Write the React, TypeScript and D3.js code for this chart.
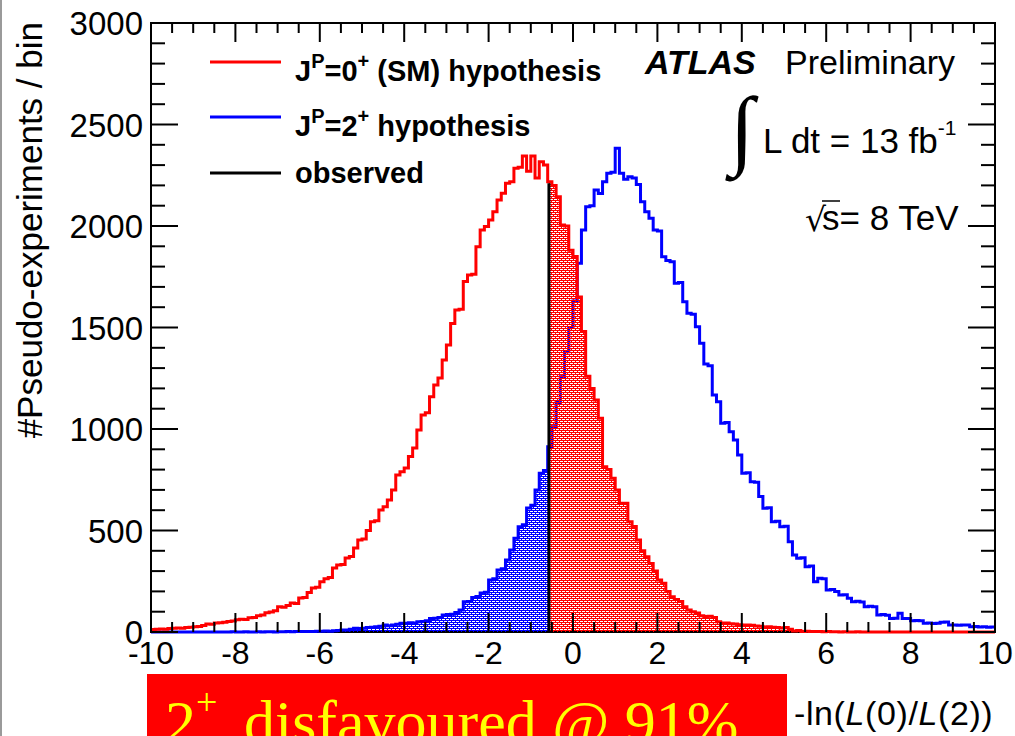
import React from 'react';
import * as d3 from 'd3';

// ---------- data ----------
const X_MIN = -10;
const X_MAX = 10;
const BIN_WIDTH = 0.1;
const Y_MAX = 3000;

const xMajorTicks = [-10, -8, -6, -4, -2, 0, 2, 4, 6, 8, 10];
const xTickLabels = ['-10', '-8', '-6', '-4', '-2', '0', '2', '4', '6', '8', '10'];
const yMajorTicks = [0, 500, 1000, 1500, 2000, 2500, 3000];
const yTickLabels = ['0', '500', '1000', '1500', '2000', '2500', '3000'];

const OBSERVED = -0.57;
const OBSERVED_TOP = 2210;

// J^P = 0+ (SM) hypothesis, 200 bins from -10 to 10
const sm0Counts = [
  12, 14, 15, 14, 17, 18, 20, 19, 22, 24,
  26, 27, 32, 39, 38, 44, 46, 48, 52, 54,
  60, 63, 62, 70, 71, 80, 84, 95, 98, 105,
  125, 122, 130, 143, 140, 167, 170, 195, 217, 220,
  248, 262, 268, 315, 330, 332, 364, 372, 414, 453,
  458, 500, 543, 548, 601, 617, 650, 700, 773, 790,
  808, 864, 906, 995, 1069, 1080, 1159, 1217, 1251, 1340,
  1414, 1520, 1586, 1590, 1726, 1759, 1762, 1898, 1980, 1997,
  2030, 2070, 2128, 2161, 2210, 2218, 2284, 2290, 2345, 2270,
  2345, 2236, 2316, 2300, 2218, 2200, 2144, 2005, 2000, 1880,
  1850, 1650, 1480, 1260, 1200, 1143, 1053, 814, 800, 757,
  700, 634, 634, 543, 520, 453, 400, 371, 338, 300,
  256, 240, 200, 174, 160, 150, 125, 108, 100, 94,
  80, 76, 78, 71, 50, 44, 44, 41, 40, 36,
  34, 34, 33, 30, 28, 25, 26, 24, 22, 20,
  22, 14, 5, 8, 3, 4, 2, 3, 2, 1,
  2, 1, 1, 0, 1, 0, 0, 1, 0, 0,
  0, 0, 0, 0, 0, 0, 0, 0, 0, 0,
  0, 0, 0, 0, 0, 0, 0, 0, 0, 0,
  0, 0, 0, 0, 0, 0, 0, 0, 0, 0,
];

// J^P = 2+ hypothesis, 200 bins from -10 to 10
const spin2Counts = [
  0, 0, 0, 0, 0, 0, 0, 0, 0, 0,
  0, 0, 0, 0, 0, 0, 0, 0, 0, 1,
  0, 0, 1, 0, 0, 1, 0, 1, 1, 0,
  1, 1, 2, 1, 2, 2, 3, 2, 3, 4,
  4, 5, 4, 6, 7, 10, 10, 14, 18, 17,
  18, 22, 24, 26, 28, 34, 31, 35, 38, 43,
  43, 46, 44, 51, 52, 55, 66, 68, 72, 84,
  86, 88, 96, 108, 149, 150, 170, 175, 192, 196,
  256, 262, 305, 312, 355, 404, 462, 519, 528, 611,
  625, 700, 782, 795, 913, 1011, 1130, 1258, 1380, 1500,
  1630, 1816, 1980, 2095, 2100, 2177, 2160, 2218, 2260, 2265,
  2383, 2260, 2230, 2243, 2236, 2205, 2120, 2070, 2038, 1980,
  1975, 1849, 1830, 1824, 1718, 1722, 1627, 1570, 1565, 1504,
  1422, 1320, 1312, 1167, 1134, 1028, 1032, 987, 946, 872,
  782, 785, 740, 738, 667, 609, 612, 543, 546, 519,
  521, 445, 379, 363, 366, 322, 325, 248, 265, 262,
  207, 209, 199, 182, 184, 166, 149, 151, 148, 125,
  127, 124, 84, 86, 83, 67, 68, 92, 67, 66,
  56, 57, 55, 43, 44, 42, 43, 48, 49, 34,
  35, 33, 34, 35, 26, 27, 25, 26, 24, 25,
];

// ---------- layout ----------
const W = 1015;
const H = 736;
const FRAME = { left: 151, right: 995, top: 23, bottom: 632 };
const SANS = '"Liberation Sans", Arial, Helvetica, sans-serif';
const SERIF = '"Liberation Serif", "Times New Roman", serif';
const RED = '#ff0000';
const BLUE = '#0000ff';
const HATCH = 'M0 0h4v1h-4z M3 1h1v1h-1z M0 2h4v1h-4z M1 3h1v1h-1z';

type Pt = [number, number];

function stepPoints(counts: number[]): Pt[] {
  const pts: Pt[] = counts.map((c, i) => [X_MIN + i * BIN_WIDTH, c] as Pt);
  pts.push([X_MAX, counts[counts.length - 1]]);
  return pts;
}

function fillPoints(counts: number[], from: number, to: number): Pt[] {
  const pts: Pt[] = [];
  let last = 0;
  counts.forEach((c, i) => {
    const lo = X_MIN + i * BIN_WIDTH;
    const hi = lo + BIN_WIDTH;
    if (hi <= from + 1e-9 || lo >= to - 1e-9) return;
    pts.push([Math.max(lo, from), c]);
    last = c;
  });
  pts.push([to, last]);
  return pts;
}

export default function App() {
  const x = d3.scaleLinear().domain([X_MIN, X_MAX]).range([FRAME.left, FRAME.right]);
  const y = d3.scaleLinear().domain([0, Y_MAX]).range([FRAME.bottom, FRAME.top]);

  const line = d3
    .line<Pt>()
    .x((d) => x(d[0]))
    .y((d) => y(d[1]))
    .curve(d3.curveStepAfter);
  const area = d3
    .area<Pt>()
    .x((d) => x(d[0]))
    .y0(y(0))
    .y1((d) => y(d[1]))
    .curve(d3.curveStepAfter);

  const xMinor = d3.range(X_MIN, X_MAX + 0.001, 0.5);
  const yMinor = d3.range(0, Y_MAX + 1, 100);

  const tickW = 2;

  return (
    <svg
      width={W}
      height={H}
      viewBox={`0 0 ${W} ${H}`}
      style={{ position: 'absolute', left: 0, top: 0, background: '#fff' }}
    >
      <defs>
        <pattern id="redHatch" patternUnits="userSpaceOnUse" width="4" height="4">
          <path d={HATCH} fill={RED} />
        </pattern>
        <pattern id="blueHatch" patternUnits="userSpaceOnUse" width="4" height="4">
          <path d={HATCH} fill={BLUE} />
        </pattern>
      </defs>
      <rect x={0} y={0} width={W} height={H} fill="#fff" />
      <line x1={1} y1={0} x2={1} y2={H} stroke="#9a9a9a" strokeWidth={2} />

      {/* frame */}
      <rect
        x={FRAME.left}
        y={FRAME.top}
        width={FRAME.right - FRAME.left}
        height={FRAME.bottom - FRAME.top}
        fill="none"
        stroke="#000"
        strokeWidth={2}
      />

      {/* blue filled area left of observed */}
      <path d={area(fillPoints(spin2Counts, X_MIN, OBSERVED)) || ''} fill="url(#blueHatch)" />
      <path d={line(stepPoints(spin2Counts)) || ''} fill="none" stroke={BLUE} strokeWidth={3} />
      {/* red filled area right of observed */}
      <path d={area(fillPoints(sm0Counts, OBSERVED, X_MAX)) || ''} fill="url(#redHatch)" />
      <path d={line(stepPoints(sm0Counts)) || ''} fill="none" stroke={RED} strokeWidth={3} />

      {/* observed */}
      <line
        x1={x(OBSERVED)}
        x2={x(OBSERVED)}
        y1={y(0)}
        y2={y(OBSERVED_TOP)}
        stroke="#000"
        strokeWidth={3}
      />

      {/* ticks */}
      <g stroke="#000" strokeWidth={tickW}>
        {xMinor.map((v) => {
          const major = xMajorTicks.some((m) => Math.abs(m - v) < 1e-6);
          const len = major ? 19 : 10;
          return (
            <g key={`xt${v}`}>
              <line x1={x(v)} x2={x(v)} y1={FRAME.bottom} y2={FRAME.bottom - len} />
              <line x1={x(v)} x2={x(v)} y1={FRAME.top} y2={FRAME.top + len} />
            </g>
          );
        })}
        {yMinor.map((v) => {
          const major = yMajorTicks.includes(v);
          const len = major ? 27 : 14;
          return (
            <g key={`yt${v}`}>
              <line x1={FRAME.left} x2={FRAME.left + len} y1={y(v)} y2={y(v)} />
              <line x1={FRAME.right} x2={FRAME.right - len} y1={y(v)} y2={y(v)} />
            </g>
          );
        })}
      </g>

      {/* tick labels */}
      <g fontFamily={SANS} fontSize={33} fill="#000">
        {yMajorTicks.map((v, i) => (
          <text key={`yl${v}`} x={143} y={y(v) + 12} textAnchor="end">
            {yTickLabels[i]}
          </text>
        ))}
      </g>
      <g fontFamily={SANS} fontSize={32} fill="#000">
        {xMajorTicks.map((v, i) => (
          <text key={`xl${v}`} x={x(v)} y={664} textAnchor="middle">
            {xTickLabels[i]}
          </text>
        ))}
      </g>

      {/* axis titles */}
      <text
        transform="translate(42,22) rotate(-90)"
        textAnchor="end"
        fontFamily={SANS}
        fontSize={35}
        fill="#000"
      >
        #Pseudo-experiments / bin
      </text>
      <text x={794} y={725} fontFamily={SANS} fontSize={34} letterSpacing={0.6} fill="#000">
        -ln(<tspan fontStyle="italic">L</tspan>(0)/<tspan fontStyle="italic">L</tspan>(2))
      </text>

      {/* legend */}
      <g fontFamily={SANS} fontWeight="bold" fontSize={29} fill="#000">
        <line x1={210} x2={281} y1={62} y2={62} stroke={RED} strokeWidth={3} />
        <text x={295} y={81}>
          J<tspan fontSize={20} dy={-13}>P</tspan>
          <tspan dy={13}>=0</tspan>
          <tspan fontSize={20} dy={-13}>+</tspan>
          <tspan dy={13}> (SM) hypothesis</tspan>
        </text>
        <line x1={210} x2={281} y1={117} y2={117} stroke={BLUE} strokeWidth={3} />
        <text x={295} y={136}>
          J<tspan fontSize={20} dy={-13}>P</tspan>
          <tspan dy={13}>=2</tspan>
          <tspan fontSize={20} dy={-13}>+</tspan>
          <tspan dy={13}> hypothesis</tspan>
        </text>
        <line x1={210} x2={281} y1={173} y2={173} stroke="#000" strokeWidth={3} />
        <text x={295} y={183}>observed</text>
      </g>

      {/* ATLAS label */}
      <text x={645} y={74} fontFamily={SANS} fontSize={34} fontWeight="bold" fontStyle="italic" fill="#000">
        ATLAS
      </text>
      <text x={785} y={74} fontFamily={SANS} fontSize={34} fill="#000">
        Preliminary
      </text>
      <text x={730} y={158} fontFamily={SERIF} fontSize={88} fill="#000">
        ∫
      </text>
      <text x={763} y={153} fontFamily={SANS} fontSize={35} fill="#000">
        L dt = 13 fb<tspan fontSize={21} dy={-18}>-1</tspan>
      </text>
      <text x={805} y={231} fontFamily='"DejaVu Sans", sans-serif' fontSize={33} fill="#000">
        √
      </text>
      <line x1={822} x2={840} y1={201} y2={201} stroke="#000" strokeWidth={1.5} />
      <text x={822} y={230} fontFamily={SANS} fontSize={35} fill="#000">
        s= 8 TeV
      </text>

      {/* red banner */}
      <rect x={147} y={674} width={640} height={80} fill={RED} />
      <text x={165} y={743} fontFamily={SERIF} fontSize={62} fill="#ffff00">
        2<tspan fontSize={38} dy={-28}>+</tspan>
      </text>
      <text x={244} y={743} fontFamily={SERIF} fontSize={62} fill="#ffff00">
        disfavoured @ 91%
      </text>
    </svg>
  );
}
